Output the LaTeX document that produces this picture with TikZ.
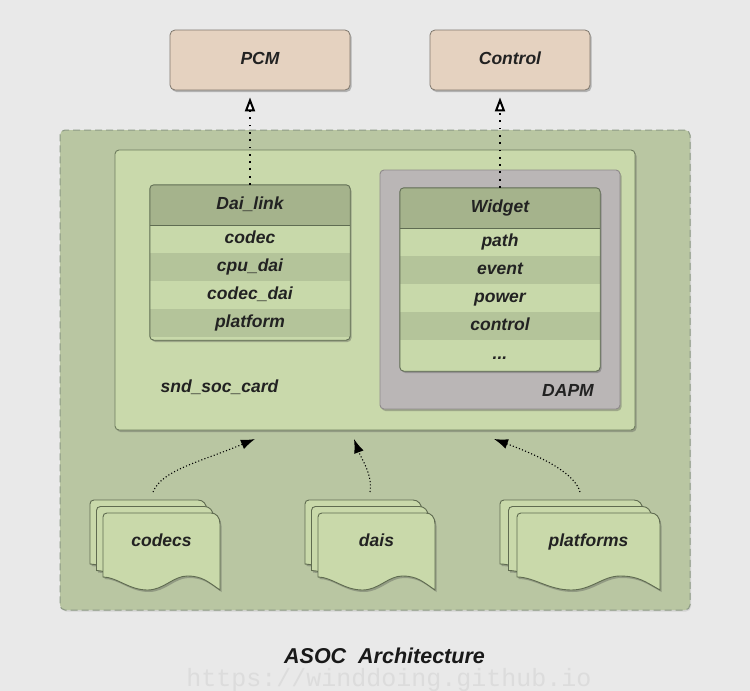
\documentclass[tikz,border=0pt]{standalone}
\usepackage{fontspec}
\setmainfont{Liberation Sans}
\setmonofont{Liberation Mono}
\usetikzlibrary{arrows.meta,shadows,calc}
\definecolor{bgc}{HTML}{E9E9E9}
\definecolor{peach}{HTML}{E5D2C0}
\definecolor{peachline}{HTML}{7F776D}
\definecolor{outerc}{HTML}{B9C6A2}
\definecolor{outerline}{HTML}{8D9A86}
\definecolor{cardc}{HTML}{C9D9AB}
\definecolor{cardline}{HTML}{6E7C5E}
\definecolor{hdrc}{HTML}{A5B38C}
\definecolor{rowl}{HTML}{C8D9AA}
\definecolor{rowd}{HTML}{B4C49A}
\definecolor{tabline}{HTML}{5F6C52}
\definecolor{dapmc}{HTML}{BAB6B6}
\definecolor{dapmline}{HTML}{8E8A8A}
\definecolor{sheetc}{HTML}{C9D9AA}
\definecolor{sheetline}{HTML}{5F6B50}
\definecolor{txt}{HTML}{222222}
\definecolor{wmark}{HTML}{DCDCDC}
\tikzset{
  shd/.style={drop shadow={shadow xshift=1.5pt,shadow yshift=-2pt,opacity=0.35,fill=black!70}},
  lbl/.style={font=\bfseries\itshape\fontsize{17.5}{20}\selectfont, text=txt, inner sep=0pt, text height=12pt, text depth=3.5pt},
  topbox/.style={draw=peachline, line width=0.8pt, fill=peach, rounded corners=5pt, minimum width=#1, minimum height=60pt, shd, inner sep=0pt},
  outerbox/.style={draw=outerline, line width=1pt, dash pattern=on 7pt off 4pt, fill=outerc, rounded corners=5pt, minimum width=630pt, minimum height=480pt, inner sep=0pt, drop shadow={shadow xshift=1pt,shadow yshift=-1.5pt,opacity=0.2}},
  cardbox/.style={draw=cardline, line width=0.9pt, fill=cardc, rounded corners=4pt, minimum width=520pt, minimum height=280pt, inner sep=0pt, shd},
  dapmbox/.style={draw=dapmline, line width=0.9pt, fill=dapmc, rounded corners=4pt, minimum width=240pt, minimum height=239pt, inner sep=0pt, shd},
  tabframe/.style={fill=rowl, rounded corners=4pt, minimum width=200pt, minimum height=#1, inner sep=0pt, shd},
  tabborder/.style={draw=tabline, line width=0.9pt, rounded corners=4pt},
  hdr/.style={fill=hdrc, minimum width=200pt, minimum height=40pt, lbl},
  row/.style={fill=#1, minimum width=200pt, minimum height=28pt, lbl},
  sheet/.style={fill=sheetc, draw=sheetline, line width=0.9pt, shd},
  toparrow/.style={line width=1.8pt, dash pattern=on 1.8pt off 5.5pt, -{Triangle[open,fill=white,length=14pt,width=10pt,line width=2pt]}},
  curvarrow/.style={line width=1.1pt, dash pattern=on 1.1pt off 2.2pt, -{Latex[length=14pt,width=10pt]}},
  ttl/.style={font=\bfseries\itshape\fontsize{21.5}{24}\selectfont, inner sep=0pt},
  wm/.style={font=\ttfamily\fontsize{25}{28}\selectfont, text=wmark, inner sep=0pt}
}
\newcommand{\mysheet}[4]{%
  \begin{scope}[shift={(#1,#2)}]
  \filldraw[sheet] (0,{#4-13}) -- (0,4) .. controls (0,1.5) and (1.5,0) .. (4,0)
   -- ({#3-9},0) .. controls ({#3-4},0) and ({#3},4) .. ({#3},11)
   -- ({#3},{#4}) .. controls ({0.9*#3},{#4-8}) and ({0.85*#3},{#4-14}) .. ({0.72*#3},{#4-14})
   .. controls ({0.6*#3},{#4-14}) and ({0.52*#3},{#4}) .. ({0.38*#3},{#4})
   .. controls ({0.22*#3},{#4}) and ({0.12*#3},{#4-13}) .. (0,{#4-13}) -- cycle;
  \end{scope}}
\begin{document}
\begin{tikzpicture}[x=1pt,y=-1pt]
\fill[bgc] (0,0) rectangle (750,691);
\useasboundingbox (0,0) rectangle (750,691);

% top boxes
\node[topbox=180pt, lbl] (pcm) at (260,60) {PCM};
\node[topbox=160pt, lbl] (control) at (510,60) {Control};

% containers
\node[outerbox] (outer) at (375,370) {};
\node[cardbox] (card) at (375,290) {};
\node[dapmbox] (dapm) at (500,289.5) {};

% Dai_link table
\node[tabframe=155pt] (daiframe) at (250,262.5) {};
\begin{scope}
\clip[rounded corners=4pt] (150,185) rectangle (350,340);
\node[hdr] (daihdr) at (250,205) {Dai\_link};
\node[row=rowl] (dcodec) at (250,239) {codec};
\node[row=rowd] (dcpu) at (250,267) {cpu\_dai};
\node[row=rowl] (dcodecdai) at (250,295) {codec\_dai};
\node[row=rowd] (dplat) at (250,323) {platform};
\end{scope}
\draw[tabline, line width=0.9pt] (daihdr.south west) -- (daihdr.south east);
\draw[tabborder] (daiframe.north west) rectangle (daiframe.south east);

% Widget table
\node[tabframe=183pt] (wframe) at (500,279.5) {};
\begin{scope}
\clip[rounded corners=4pt] (400,188) rectangle (600,371);
\node[hdr] (whdr) at (500,208) {Widget};
\node[row=rowl] (wpath) at (500,242) {path};
\node[row=rowd] (wevent) at (500,270) {event};
\node[row=rowl] (wpower) at (500,298) {power};
\node[row=rowd] (wcontrol) at (500,326) {control};
\node[row=rowl, minimum height=31pt] (wdots) at (500,355.5) {...};
\end{scope}
\draw[tabline, line width=0.9pt] (whdr.south west) -- (whdr.south east);
\draw[tabborder] (wframe.north west) rectangle (wframe.south east);

% labels
\node[lbl] (cardlbl) at (219.5,388) {snd\_soc\_card};
\node[lbl] (dapmlbl) at (568,392) {DAPM};

% top arrows
\draw[toparrow] (daihdr.north) -- ($(daihdr.north |- pcm.south)+(0,7)$);
\draw[toparrow] (whdr.north) -- ($(whdr.north |- control.south)+(0,7)$);

% document stacks
\mysheet{90}{500}{117}{77}
\mysheet{96.5}{506.5}{117}{77}
\mysheet{103}{513}{117}{77}
\node[lbl] (codecs) at (161.5,542) {codecs};

\mysheet{305}{500}{117}{77}
\mysheet{311.5}{506.5}{117}{77}
\mysheet{318}{513}{117}{77}
\node[lbl] (dais) at (376.5,542) {dais};

\mysheet{500}{500}{143}{77}
\mysheet{508.5}{506.5}{143}{77}
\mysheet{517}{513}{143}{77}
\node[lbl] (platforms) at (588.5,542) {platforms};

% curved arrows
\coordinate (cs) at (153,492);
\coordinate (ce) at (255,439);
\coordinate (ds) at (370,492);
\coordinate (de) at (354,439);
\coordinate (ps) at (580,492);
\coordinate (pe) at (494,439);
\draw[curvarrow] (cs) .. controls (162,470) and (200,462) .. (ce);
\draw[curvarrow] (ds) .. controls (373,475) and (361,458) .. (de);
\draw[curvarrow] (ps) .. controls (575,474) and (545,458) .. (pe);

% title
\node[ttl, text=black!90, anchor=base] (title) at (384.5,663) {ASOC\ \ Architecture};
\node[wm, anchor=base] (wmark) at (389,686) {https://winddoing.github.io};
\end{tikzpicture}
\end{document}
